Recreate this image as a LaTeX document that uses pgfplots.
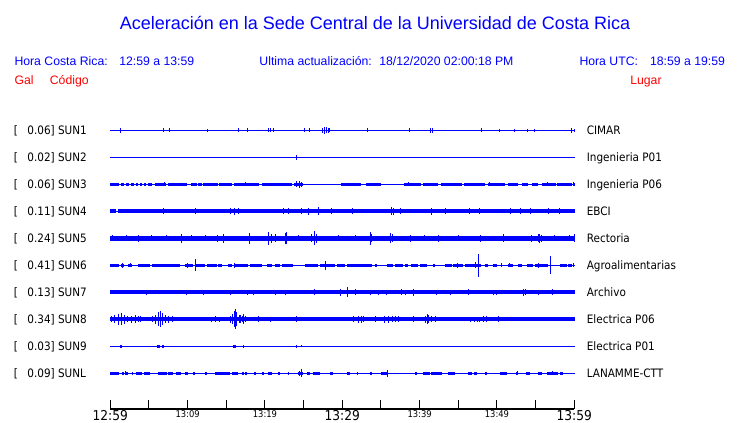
\documentclass[border=0pt]{standalone}
\usepackage{fontspec}
\setmainfont{Liberation Sans}
\newfontfamily\dvc[FakeStretch=0.9]{DejaVu Sans}
\usepackage{pgfplots}
\usepackage{pgfplotstable}
\pgfplotsset{compat=1.18}

\newcommand\labfont{\dvc\fontsize{11.6}{13}\selectfont}
\newcommand\hdfont{\fontsize{12.25}{14}\selectfont}
\newcommand\tlb{\dvc\fontsize{13.6}{14}\selectfont}
\newcommand\tls{\dvc\fontsize{9.3}{10}\selectfont}

% ---------- spikes (t in minutes after 12:59, h = half height) ----------
\pgfplotstableread{
t h
1.29 2.3
6.85 2
7.63 2
12.54 1.5
16.60 2
17.71 2
20.46 2
20.65 2
21.08 2
25.09 2
25.73 2
27.50 2.5
27.75 3.5
27.95 3
28.15 2.5
28.40 2
33.23 2
38.66 2
41.43 2.5
41.64 2.5
47.97 2
50.30 1.5
52.24 1.5
53.97 1.5
54.83 1.5
59.66 2.5
60.02 1.5
}\spkI
\pgfplotstableread{
t h
24.1 2.5
}\spkII
\pgfplotstableread{
a b
0 1.12
1.38 1.82
1.99 2.42
2.68 3.11
3.28 3.62
3.84 4.14
4.40 4.66
4.92 5.35
5.78 7.2
7.4 9.88
10.44 11.17
11.38 11.82
12.03 13.9
14.1 15.69
16.04 19.23
19.66 23.45
23.80 24.96
29.83 32.42
33.02 35.00
38.02 40.2
40.4 42.42
42.76 45.44
45.78 48.45
48.80 51.04
51.47 52.76
53.19 54.06
54.49 55.35
55.78 57.6
57.8 59.66
59.8 60.05
}\segIII
\pgfplotstableread{
t h
7.0 2.2
17.5 2.2
24.1 3
24.4 3.5
24.7 2.5
38.5 2.2
49.0 2.2
56.5 2.2
59.9 2
}\spkIII
\pgfplotstableread{
a b
0 0.8
1.0 60.05
}\segIV
\pgfplotstableread{
t h
6.85 3
11.04 3
15.48 3
16.06 3.5
16.55 3
22.37 3
23.02 3
24.75 3
25.60 3.5
26.90 4
28.63 3
31.35 3
36.39 4
36.60 3.5
37.46 3
41.56 3.5
43.28 3
46.42 3
47.80 3
51.78 3
52.98 3
54.27 3
56.64 3
58.06 3
}\spkIV
\pgfplotstableread{
a b
0 60.05
}\segfull
\pgfplotstableread{
t h
0.3 3
2.12 3
3.63 3.5
5.35 3
7.29 3
9.23 4.5
10.52 3
12.25 3
13.88 3.5
14.62 4.5
17.98 5.5
20.44 6.5
20.87 4.5
21.30 4
22.59 5.5
22.81 6
24.32 3
26.04 4
26.38 7
26.69 4.5
29.49 3
31.64 3
33.58 6.5
33.80 4
36.17 5
36.47 4
38.76 3.5
40.69 3
42.42 3.5
45.00 3
47.81 3.5
50.82 4
54.49 3.5
55.35 4
55.56 4.5
55.78 3.5
57.50 3
59.44 3
60.0 4
}\spkV
\pgfplotstableread{
a b
0 1.12
1.38 1.82
2.25 2.76
3.63 5.13
5.35 9.01
9.66 10.74
11.04 12.25
12.46 13.76
13.97 14.40
15.26 15.69
16.12 17.85
18.07 19.57
20.22 20.87
21.30 21.94
22.16 23.67
25.18 26.90
27.12 29.06
29.27 30.35
30.57 33.80
34.23 34.44
35.74 36.60
36.82 37.89
38.11 38.54
38.88 39.83
40.05 40.91
41.77 41.99
43.28 44.14
44.36 45.65
45.87 47.94
48.45 48.88
49.53 49.96
51.47 52.12
52.76 53.19
53.84 54.70
54.92 56.64
58.15 59.01
59.23 59.66
}\segVI
\pgfplotstableread{
t h
1.56 2.3
2.55 2
10.00 2.5
10.95 6
16.12 2.5
27.76 4.7
44.92 2.5
47.25 3
47.59 11.7
50.61 2
51.60 2
55.35 2.5
56.90 9
59.87 2
}\spkVI
\pgfplotstableread{
t h
4.71 2.5
9.88 2.5
12.03 2.5
15.48 2.5
17.77 2.5
18.49 2.5
21.30 2.5
22.59 2.5
26.34 3
29.70 3.5
30.65 5
31.64 3
33.58 2.5
34.66 2.5
35.74 2.5
37.68 3
38.11 2.5
39.18 3.5
42.21 2.5
44.02 2.5
46.29 3
49.53 2.5
49.97 2.5
53.41 3.5
53.63 3
55.35 2.5
57.21 3
}\spkVII
\pgfplotstableread{
t h
0.18 3
0.6 4
1.0 5.5
1.4 6
1.78 4.5
2.16 3
2.7 3.5
3.2 4
3.6 3
3.84 3
5.39 3
5.78 4.5
6.17 7
6.43 8
6.69 6
7.07 4
7.46 3.5
7.98 3
13.11 2.5
13.63 3
14.15 2.5
15.48 3.5
15.74 5
16.0 8
16.19 10
16.38 7
16.64 4
16.84 4
17.03 3
17.16 5
17.42 3
19.14 3
20.65 2.5
24.10 3
31.42 3
32.1 3.5
32.42 3.5
32.68 3
34.23 3
35.39 3.5
35.91 3.5
36.43 3
36.82 3
37.24 3
39.18 3
40.7 3.5
40.95 5
41.2 4
41.54 3
41.99 3
46.51 2.5
47.03 2.5
47.54 2.5
47.8 2.5
48.24 3
48.67 3
50.17 3
}\spkVIII
\pgfplotstableread{
a b
1.2 1.5
6.1 6.4
6.7 7.0
15.9 16.2
}\segIX
\pgfplotstableread{
t h
17.2 1.5
24.1 1.5
24.66 1.2
}\spkIX
\pgfplotstableread{
a b
0 1.12
1.56 1.82
1.90 2.25
2.76 2.94
3.28 4.06
4.40 5.13
6.21 7.29
7.51 8.15
8.45 9.14
9.66 10.09
10.74 10.95
12.25 12.38
13.54 15.48
15.78 16.56
16.99 17.33
17.42 17.68
18.63 18.80
19.66 19.92
20.35 20.87
21.73 21.94
22.94 23.11
24.23 24.96
25.39 25.82
26.25 27.12
28.41 28.84
30.57 30.99
31.86 32.07
33.58 33.80
35.00 35.74
39.40 39.62
40.48 41.34
41.47 42.85
43.63 44.57
46.21 46.73
47.07 47.38
48.45 48.67
50.39 51.25
52.46 52.76
53.71 54.27
55.26 55.78
56.43 57.94
58.15 58.58
}\segL
\pgfplotstableread{
t h
1.99 2
24.40 2.5
24.66 4
35.87 3.5
52.68 2
57.2 2
}\spkL

% ---------- drawing helpers ----------
\newcommand\baseln[1]{\addplot[blue, line width=1pt, forget plot] coordinates {(0,#1) (60.05,#1)};}
\newcommand\band[3]{\addplot[draw=none, mark=none, forget plot,
  error bars/.cd, x dir=both, x explicit, error mark=none,
  error bar style={draw=blue, line width=#3}]
  table[x expr={(\thisrow{a}+\thisrow{b})/2}, y expr={#1}, x error expr={(\thisrow{b}-\thisrow{a})/2}] {#2};}
\newcommand\spikes[2]{\addplot[draw=none, mark=none, forget plot,
  error bars/.cd, y dir=both, y explicit, error mark=none,
  error bar style={draw=blue, line width=0.9pt}]
  table[x=t, y expr={#1}, y error=h] {#2};}
\newcommand\lab[4]{%
  \node[anchor=base west, inner sep=0pt, font=\labfont] at (axis cs:-12.5,#1) {[};
  \node[anchor=base west, inner sep=0pt, font=\labfont] at (axis cs:-10.73,#1) {#2] #3};
  \node[anchor=base west, inner sep=0pt, font=\labfont] at (axis cs:61.6,#1) {#4};}

\begin{document}
\begin{tikzpicture}
\begin{axis}[
  scale only axis, width=464pt, height=409pt,
  xmin=0, xmax=60, ymin=14, ymax=423,
  axis x line*=bottom, axis y line=none,
  x axis line style={black, line width=1.3pt},
  xtick={0,5,...,60},
  xticklabels={{\tlb 12:59},,{\tls 13:09},,{\tls 13:19},,{\tlb 13:29},,{\tls 13:39},,{\tls 13:49},,{\tlb 13:59}},
  tick align=inside, major tick length=9pt,
  x tick style={black, line width=1pt},
  xticklabel style={anchor=north, inner sep=0pt, yshift=-1.2pt},
  ytick=\empty,
  clip=false,
]
\path (axis cs:-14.26,0) rectangle (axis cs:81.43,423);

% header texts
\node[anchor=base, inner sep=0pt, text=blue, font=\fontsize{18}{20}\selectfont] at (axis cs:34.23,393.7) {Aceleración en la Sede Central de la Universidad de Costa Rica};
\node[anchor=base west, inner sep=0pt, text=blue, font=\hdfont] at (axis cs:-12.41,357.7) {Hora Costa Rica:};
\node[anchor=base west, inner sep=0pt, text=blue, font=\hdfont] at (axis cs:1.14,357.7) {12:59 a 13:59};
\node[anchor=base west, inner sep=0pt, text=blue, font=\hdfont] at (axis cs:19.27,357.7) {Ultima actualización:};
\node[anchor=base west, inner sep=0pt, text=blue, font=\hdfont] at (axis cs:34.76,357.7) {18/12/2020 02:00:18 PM};
\node[anchor=base west, inner sep=0pt, text=blue, font=\hdfont] at (axis cs:60.65,357.7) {Hora UTC:};
\node[anchor=base west, inner sep=0pt, text=blue, font=\hdfont] at (axis cs:69.77,357.7) {18:59 a 19:59};
\node[anchor=base west, inner sep=0pt, text=red, font=\hdfont] at (axis cs:-12.41,338.3) {Gal};
\node[anchor=base west, inner sep=0pt, text=red, font=\hdfont] at (axis cs:-7.84,338.3) {Código};
\node[anchor=base west, inner sep=0pt, text=red, font=\hdfont] at (axis cs:67.22,338.3) {Lugar};

% SUN1
\baseln{292.7}
\spikes{292.7}{\spkI}
% SUN2
\baseln{265.7}
\spikes{265.7}{\spkII}
% SUN3
\baseln{238.7}
\band{238.7}{\segIII}{3.3pt}
\spikes{238.7}{\spkIII}
% SUN4
\baseln{211.7}
\band{211.7}{\segIV}{4pt}
\spikes{211.7}{\spkIV}
% SUN5
\baseln{184.7}
\band{184.7}{\segfull}{5.3pt}
\spikes{184.7}{\spkV}
% SUN6
\baseln{157.7}
\band{157.7}{\segVI}{2.7pt}
\spikes{157.7}{\spkVI}
% SUN7
\baseln{130.7}
\band{130.7}{\segfull}{3.6pt}
\spikes{130.7}{\spkVII}
% SUN8
\baseln{103.7}
\band{103.7}{\segfull}{4.2pt}
\spikes{103.7}{\spkVIII}
% SUN9
\baseln{76.7}
\band{76.7}{\segIX}{3pt}
\spikes{76.7}{\spkIX}
% SUNL
\baseln{49.7}
\band{49.7}{\segL}{2.7pt}
\spikes{49.7}{\spkL}

% labels
\lab{288.0}{0.06}{SUN1}{CIMAR}
\lab{261.0}{0.02}{SUN2}{Ingenieria P01}
\lab{234.0}{0.06}{SUN3}{Ingenieria P06}
\lab{207.0}{0.11}{SUN4}{EBCI}
\lab{180.0}{0.24}{SUN5}{Rectoria}
\lab{153.0}{0.41}{SUN6}{Agroalimentarias}
\lab{126.0}{0.13}{SUN7}{Archivo}
\lab{99.0}{0.34}{SUN8}{Electrica P06}
\lab{72.0}{0.03}{SUN9}{Electrica P01}
\lab{45.0}{0.09}{SUNL}{LANAMME-CTT}
\end{axis}
\end{tikzpicture}
\end{document}
